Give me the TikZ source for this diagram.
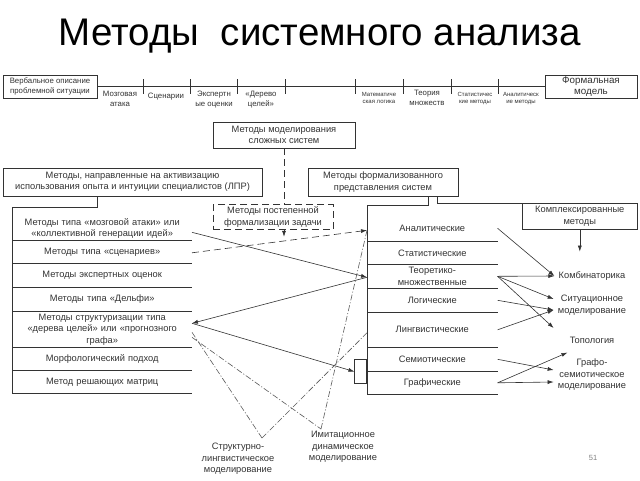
\documentclass[tikz,border=0pt]{standalone}
\usepackage{fontspec}
\setmainfont{Liberation Sans}
\usetikzlibrary{arrows.meta, positioning, calc}

\tikzset{
  every node/.style={font=\fontsize{9.3}{11.5}\selectfont, text=black!80},
  box/.style={draw, align=center, inner sep=1pt},
  lrow/.style={align=center, inner sep=0pt, minimum width=179pt, text width=177pt, anchor=north east},
  mrow/.style={align=center, inner sep=0pt, minimum width=130pt, text width=128pt, anchor=north west},
  lbl/.style={align=center, inner sep=1pt},
  toplbl/.style={align=center, inner sep=0pt, anchor=north, font=\fontsize{7.8}{9.5}\selectfont},
  smalllbl/.style={align=center, inner sep=0pt, anchor=north, font=\fontsize{6}{7.5}\selectfont},
  arr/.style={-{Latex[length=6pt,width=4pt]}},
  dashln/.style={dash pattern=on 7pt off 4pt},
  dotln/.style={dash pattern=on 6pt off 2pt on 1pt off 2pt, black!65},
}

\begin{document}
\begin{tikzpicture}[x=1pt, y=-1pt, line width=0.6pt, draw=black!80]
\useasboundingbox[fill=white] (0,0) rectangle (640,480);

% title
\node[font=\fontsize{38.5}{42}\selectfont, text=black] (title) at (320,36) {Методы\ \ системного анализа};

% top scale
\node[box, minimum width=94pt, minimum height=23pt, font=\fontsize{7.8}{9.5}\selectfont] (verb) at (50,86.5) {Вербальное описание\\проблемной ситуации};
\node[box, minimum width=92pt, minimum height=23pt, font=\fontsize{9.8}{11}\selectfont] (formal) at (591,86.5) {Формальная\\модель};
\draw (verb.east) -- (formal.west);
\foreach \x in {143,190,237,285,355,403,451,498}
  \draw (\x,79) -- (\x,94);
\node[toplbl] (t1) at (120,91) {Мозговая\\атака};
\node[toplbl] (t2) at (166,93) {Сценарии};
\node[toplbl] (t3) at (214,91) {Экспертн\\ые оценки};
\node[toplbl] (t4) at (261,91) {«Дерево\\целей»};
\node[smalllbl] (t5) at (379,92) {Математиче\\ская логика};
\node[toplbl] (t6) at (427,90) {Теория\\множеств};
\node[smalllbl] (t7) at (475,92) {Статистичес\\кие методы};
\node[smalllbl] (t8) at (521,92) {Аналитическ\\ие методы};

% headers
\node[box, minimum width=142pt, minimum height=26pt] (model) at (284,135) {Методы моделирования\\сложных систем};
\node[box, minimum width=259pt, minimum height=28pt] (hdrL) at (132.5,182) {Методы, направленные на активизацию\\использования опыта и интуиции специалистов (ЛПР)};
\node[box, minimum width=150pt, minimum height=28pt] (hdrR) at (383,182) {Методы формализованного\\представления систем};
\node[box, dashln, minimum width=120pt, minimum height=25pt] (stepw) at (273,217) {Методы постепенной\\формализации задачи};
\node[box, minimum width=115pt, minimum height=26pt, anchor=north west] (kompl) at (522,203) {Комплексированные\\методы};

% left column
\node[lrow, minimum height=24pt] (l1) at (192,216) {Методы типа «мозговой атаки» или\\«коллективной генерации идей»};
\node[lrow, minimum height=23pt] (l2) at (192,240) {Методы типа «сценариев»};
\node[lrow, minimum height=24pt] (l3) at (192,263) {Методы экспертных оценок};
\node[lrow, minimum height=24pt] (l4) at (192,287) {Методы типа «Дельфи»};
\node[lrow, minimum height=36pt] (l5) at (192,311) {Методы структуризации типа\\«дерева целей» или «прогнозного\\графа»};
\node[lrow, minimum height=23pt] (l6) at (192,347) {Морфологический подход};
\node[lrow, minimum height=23pt] (l7) at (192,370) {Метод решающих матриц};
\coordinate (ltop) at (13,207);

% middle column
\node[mrow, minimum height=26pt] (m1) at (367,215) {Аналитические};
\node[mrow, minimum height=23pt] (m2) at (367,241) {Статистические};
\node[mrow, minimum height=24pt] (m3) at (367,264) {Теоретико-\\множественные};
\node[mrow, minimum height=24pt] (m4) at (367,288) {Логические};
\node[mrow, minimum height=35pt] (m5) at (367,312) {Лингвистические};
\node[mrow, minimum height=24pt] (m6) at (367,347) {Семиотические};
\node[mrow, minimum height=23pt] (m7) at (367,371) {Графические};
\coordinate (mtop) at (367,205);
\node[draw, inner sep=0pt, minimum width=12pt, minimum height=24pt, anchor=east] (gbox) at (m6.south west) {};

% right column
\node[lbl] (k1) at (592,276) {Комбинаторика};
\node[lbl] (k2) at (592,305) {Ситуационное\\моделирование};
\node[lbl] (k3) at (592,340) {Топология};
\node[lbl] (k4) at (592,375) {Графо-\\семиотическое\\моделирование};

% bottom labels
\node[lbl, anchor=north] (strl) at (238,442) {Структурно-\\лингвистическое\\моделирование};
\node[lbl, anchor=north] (imit) at (343,430) {Имитационное\\динамическое\\моделирование};
\coordinate (sl) at (262,438);
\coordinate (im) at (321,429);

\node[font=\fontsize{7.5}{9}\selectfont, text=black!50] (page) at (593,458) {51};

% frames of the columns
\draw ([xshift=-35.5pt]hdrL.south) -- ++(0,11) -| (l7.south west);
\foreach \r in {l1,l2,l3,l4,l5,l6,l7}
  \draw (\r.south west) -- (\r.south east);
\draw ([xshift=45pt]hdrR.south) |- (mtop) -- (m7.south west);
\foreach \r in {m1,m2,m3,m4,m5,m6,m7}
  \draw (\r.south west) -- (\r.south east);
\draw ([xshift=54pt]hdrR.south) |- (kompl.north west);
\draw[dashln] (model.south) -- (model.south |- stepw.north);

% arrows
\draw[arr] (stepw.south -| model.south) -- ++(0,7);
\draw[arr] ([yshift=-4pt]l1.east) -- ([yshift=-1pt]m3.west);
\draw[arr, dashln] ([yshift=-1pt]l2.east) -- ([yshift=-2pt]m1.west);
\draw[arr] ([yshift=-1pt]m3.west) -- ([yshift=6pt]l5.east);
\draw[arr] ([yshift=6pt]l5.east) -- (gbox.west);
\draw[arr] (m1.east) -- ([xshift=-3pt]k1.west);
\draw[arr] (m3.east) -- ([xshift=-3pt]k1.west);
\draw[arr] (m3.east) -- ([xshift=-3pt,yshift=6pt]k2.west);
\draw[arr] (m3.east) -- ([xshift=-3pt,yshift=-23pt]k2.west);
\draw[arr] (m4.east) -- ([xshift=-3pt,yshift=-5pt]k2.west);
\draw[arr] (m5.east) -- ([xshift=-3pt,yshift=-5pt]k2.west);
\draw[arr] (m7.east) -- ([xshift=-1pt,yshift=-8pt]k3.south west);
\draw[arr] (m6.east) -- ([xshift=-3pt,yshift=5pt]k4.west);
\draw[arr] (m7.east) -- ([xshift=-3pt,yshift=-7pt]k4.west);
\draw[arr] (kompl.south) -- ++(0,22);

% dash-dot links
\draw[dotln] ([yshift=-3pt]l5.east) -- (sl);
\draw[dotln] ([yshift=-8pt]l5.east) -- (im);
\draw[dotln] (sl) -- ([yshift=-3pt]m5.west);
\draw[dotln] (im) -- ([yshift=-2pt]m1.west);
\end{tikzpicture}
\end{document}
